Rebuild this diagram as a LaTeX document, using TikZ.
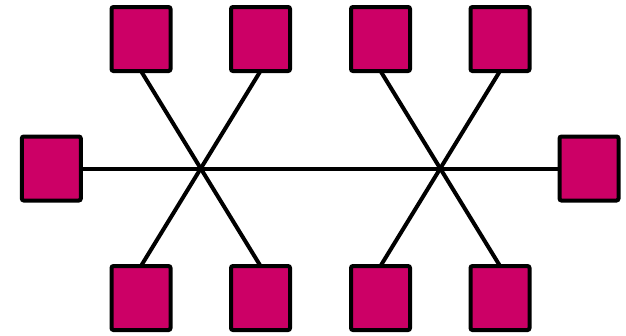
\documentclass[tikz,border=0pt]{standalone}
\usetikzlibrary{backgrounds}
\definecolor{boxfill}{RGB}{204,0,102}
\begin{document}
\begin{tikzpicture}[x=1pt,y=-1pt,
  box/.style={draw=black,fill=boxfill,line width=4pt,rounded corners=2pt,
    minimum width=59pt,minimum height=64pt,inner sep=0pt,outer sep=0pt},
  wire/.style={draw=black,line width=4pt}]
\useasboundingbox (0,0) rectangle (626,335);
\node[box] (t1) at (141,39) {};
\node[box] (t2) at (260.5,39) {};
\node[box] (t3) at (380.5,39) {};
\node[box] (t4) at (500,39) {};
\node[box] (b1) at (141,298) {};
\node[box] (b2) at (260.5,298) {};
\node[box] (b3) at (380.5,298) {};
\node[box] (b4) at (500,298) {};
\node[box] (l) at (51.3,168.5) {};
\node[box] (r) at (589,168.5) {};
\begin{scope}[on background layer]
\draw[wire] (t1.south) -- (b2.north);
\draw[wire] (t2.south) -- (b1.north);
\draw[wire] (t3.south) -- (b4.north);
\draw[wire] (t4.south) -- (b3.north);
\draw[wire] (l.east) -- (r.west);
\end{scope}
\end{tikzpicture}
\end{document}
